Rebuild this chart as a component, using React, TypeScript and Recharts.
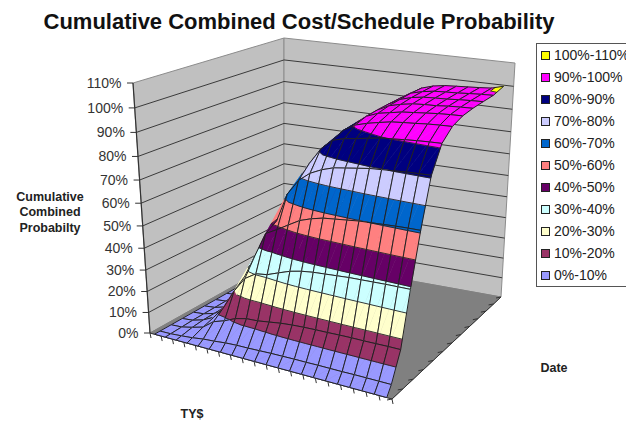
import { LabelList, Scatter, ScatterChart, XAxis, YAxis } from "recharts";

const W = 626;
const H = 422;

const bandLabels = ["0%-10%", "10%-20%", "20%-30%", "30%-40%", "40%-50%", "50%-60%", "60%-70%", "70%-80%", "80%-90%", "90%-100%", "100%-110%"];
const bandColors = ["#9999ff", "#993366", "#ffffcc", "#ccffff", "#660066", "#ff8080", "#0066cc", "#ccccff", "#000080", "#ff00ff", "#ffff00"];
const percentTicks = [0, 10, 20, 30, 40, 50, 60, 70, 80, 90, 100, 110];

// cumulative probability, one row per TY$ step, one column per date step
const probabilityByCost = [
  [0, 0, 0, 0, 0, 0, 0, 0, 0, 0, 0, 0, 0],
  [0, 0.1, 0.3, 0.5, 0.5, 0.5, 0.5, 0.5, 0.5, 0.5, 0.5, 0.5, 0.5],
  [0, 0.5, 1.5, 2, 2, 2, 2, 2, 2, 2, 2, 2, 2],
  [0, 1, 3, 4.6, 5, 5, 5, 5, 5, 5, 5, 5, 5],
  [0, 1.8, 7, 11, 12, 12.5, 13, 13, 13, 13, 13, 13, 13],
  [0, 2.2, 8.8, 20, 24, 25.5, 26, 26, 26, 26, 26, 26, 26],
  [0, 2.8, 11.2, 27, 35, 36.5, 37, 37, 37, 37, 37, 37, 37],
  [0, 3.1, 12.5, 30.4, 46, 49, 50, 50, 50, 50, 50, 50, 50],
  [0, 3.2, 12.8, 31.2, 48.8, 62, 65, 66, 66, 66, 66, 66, 66],
  [0, 3.4, 13.6, 33.2, 51.9, 68.9, 74, 75, 75, 75, 75, 75, 75],
  [0, 3.6, 14.4, 35.1, 54.9, 72.9, 81, 82.4, 83, 83, 83, 83, 83],
  [0, 3.7, 14.9, 36.3, 56.7, 75.3, 85.5, 87.5, 88, 88, 88, 88, 88],
  [0, 3.8, 15.2, 37, 58, 77, 87, 90.5, 92, 92.5, 92.8, 93, 93],
  [0, 3.8, 15.4, 37.4, 58.6, 77.8, 87.8, 92, 94, 95, 95.5, 96, 96],
  [0, 3.9, 15.5, 37.8, 59.2, 78.6, 88.8, 93.1, 95, 96.3, 97, 97.3, 97.5],
  [0, 3.9, 15.7, 38.2, 59.8, 79.4, 89.7, 94.1, 96, 97.2, 97.8, 98.1, 98.3],
  [0, 3.9, 15.8, 38.4, 60.1, 79.8, 90.1, 94.6, 96.5, 97.6, 98.1, 98.4, 98.6],
  [0, 4, 15.8, 38.6, 60.4, 80.2, 90.6, 95, 97, 97.8, 98.3, 98.6, 98.9],
  [0, 4, 15.9, 38.8, 60.7, 80.6, 91, 95.5, 97.5, 98.3, 98.7, 99, 99.2],
  [0, 4, 16, 38.9, 60.9, 80.8, 91.3, 95.8, 97.8, 98.6, 99, 99.3, 99.6],
  [0, 4, 16, 39, 61, 81, 91.5, 96, 98, 98.8, 99.2, 99.5, 101],
];

type Vertex = { u: number; v: number; z: number };
type Shape = { pts: [number, number][]; fill: string; stroke: string; sw: number };

// floor corners and the lift of each corner at the 110% level
const floor = { a: [150, 333], d: [392, 399], c: [501, 297], b: [284, 258] };
const lift = { a: [-17, -250], d: [0, -272], c: [14, -234], b: [0, -220] };

const bilerp = (q: Record<string, number[]>, u: number, v: number, k: number) =>
  (1 - u) * (1 - v) * q.a[k] + u * (1 - v) * q.d[k] + u * v * q.c[k] + (1 - u) * v * q.b[k];

// the vertical axis gets a little longer towards the top
const warp = (z: number) => {
  const t = z / 110;
  return 0.894 * t + 0.106 * t * t;
};

const project = (u: number, v: number, z: number): [number, number] => {
  const w = warp(z);
  return [bilerp(floor, u, v, 0) + w * bilerp(lift, u, v, 0), bilerp(floor, u, v, 1) + w * bilerp(lift, u, v, 1)];
};

// steps along the cost axis widen towards the viewer
const costAlong = (t: number) => 0.92 * t + 0.08 * t * t;
const dateAlong = (t: number) => 1.2 * t - 0.2 * t * t;
const costPos = (i: number) => costAlong(0.02 + 0.048 * i);
const datePos = (j: number) => (j === 0 ? 0 : (j - 0.5) / 12);

const lerpAt = (p: Vertex, q: Vertex, level: number): Vertex => {
  const t = (level - p.z) / (q.z - p.z);
  return { u: p.u + t * (q.u - p.u), v: p.v + t * (q.v - p.v), z: level };
};

const clipAbove = (poly: Vertex[], level: number, keepAbove: boolean) => {
  const out: Vertex[] = [];
  poly.forEach((p, i) => {
    const q = poly[(i + 1) % poly.length];
    const pIn = keepAbove ? p.z >= level : p.z <= level;
    const qIn = keepAbove ? q.z >= level : q.z <= level;
    if (pIn) out.push(p);
    if (pIn !== qIn) out.push(lerpAt(p, q, level));
  });
  return out;
};

const toScreen = (poly: Vertex[]) => poly.map((p) => project(p.u, p.v, p.z));

const buildScene = () => {
  const shapes: Shape[] = [];
  const line = (pts: [number, number][], stroke: string, sw: number) => shapes.push({ pts, fill: "none", stroke, sw });

  // walls and floor
  const wallEdge = "#8c8c8c";
  shapes.push({ pts: [project(0, 0, 0), project(0, 1, 0), project(0, 1, 110), project(0, 0, 110)], fill: "#c0c0c0", stroke: wallEdge, sw: 1 });
  shapes.push({ pts: [project(0, 1, 0), project(1, 1, 0), project(1, 1, 110), project(0, 1, 110)], fill: "#c0c0c0", stroke: wallEdge, sw: 1 });
  shapes.push({ pts: [project(0, 0, 0), project(1, 0, 0), project(1, 1, 0), project(0, 1, 0)], fill: "#808080", stroke: "#808080", sw: 1 });

  percentTicks.slice(1, -1).forEach((p) => {
    line([project(0, 0, p), project(0, 1, p), project(1, 1, p)], "#3a3a3a", 1);
  });

  // axes and their tick marks
  const axisColor = "#333333";
  line([project(0, 0, 0), project(0, 0, 110)], axisColor, 1.2);
  line([project(0, 0, 0), project(1, 0, 0), project(1, 1, 0)], axisColor, 1);
  percentTicks.forEach((p) => {
    const [x, y] = project(0, 0, p);
    line([[x - 6, y], [x, y]], axisColor, 1);
  });
  for (let i = 0; i <= 20; i++) {
    const [x, y] = project(costAlong(i / 20), 0, 0);
    line([[x, y], [x + 1, y + 5]], axisColor, 1);
  }
  for (let j = 0; j <= 12; j++) {
    const [x, y] = project(1, dateAlong(j / 12), 0);
    line([[x, y], [x - 5, y + 1]], axisColor, 1);
  }

  // surface cells, back to front
  const rows = probabilityByCost.length;
  const cols = probabilityByCost[0].length;
  const vertex = (i: number, j: number): Vertex => ({ u: costPos(i), v: datePos(j), z: probabilityByCost[i][j] });
  for (let j = cols - 2; j >= 0; j--) {
    for (let i = 0; i < rows - 1; i++) {
      const p00 = vertex(i, j);
      const p10 = vertex(i + 1, j);
      const p11 = vertex(i + 1, j + 1);
      const p01 = vertex(i, j + 1);
      const contours: [number, number][][] = [];
      [[p00, p10, p11], [p00, p11, p01]].forEach((tri) => {
        bandColors.forEach((color, b) => {
          const lo = b * 10;
          const hi = lo + 10;
          const clipped = clipAbove(clipAbove(tri, lo, true), hi, false);
          if (clipped.length >= 3) shapes.push({ pts: toScreen(clipped), fill: color, stroke: color, sw: 0.5 });
          if (lo > 0) {
            const hits: Vertex[] = [];
            tri.forEach((p, k) => {
              const q = tri[(k + 1) % 3];
              if ((p.z - lo) * (q.z - lo) < 0) hits.push(lerpAt(p, q, lo));
            });
            if (hits.length === 2) contours.push(toScreen(hits));
          }
        });
      });
      contours.forEach((c) => line(c, "#222222", 0.9));
      const outline = toScreen([p00, p10, p11, p01, p00]);
      line(outline, "#222222", 1);
    }
  }
  return shapes;
};

const scene = buildScene();
const scenePoints = scene.flatMap((s) => s.pts.map(([x, y]) => ({ x, y })));

// the scatter's line hook gets every scaled point; walk them back into shapes
const drawScene = (props: { points: { x: number; y: number }[] }) => {
  let at = 0;
  return (
    <g>
      {scene.map((s, idx) => {
        const pts = props.points.slice(at, at + s.pts.length);
        at += s.pts.length;
        const closed = s.fill !== "none" ? "Z" : "";
        const d = pts.map((p, k) => `${k ? "L" : "M"}${p.x.toFixed(2)} ${p.y.toFixed(2)}`).join("") + closed;
        return <path key={idx} d={d} fill={s.fill} stroke={s.stroke} strokeWidth={s.sw} strokeLinejoin="round" />;
      })}
    </g>
  );
};

const tickLabels = percentTicks.map((p) => {
  const [x, y] = project(0, 0, p);
  return { x: x - 5, y, label: `${p}%` };
});

const noSymbol = () => <g />;
const sans = "'Liberation Sans', Arial, sans-serif";

export default function App() {
  const legendRows = bandLabels.map((label, i) => ({ label, color: bandColors[i] })).reverse();
  return (
    <div style={{ position: "absolute", left: 0, top: 0, width: W, height: H, overflow: "hidden", background: "#fff" }}>
      <ScatterChart width={W} height={H} margin={{ top: 0, right: 0, bottom: 0, left: 0 }}>
        <XAxis type="number" dataKey="x" domain={[0, W]} hide />
        <YAxis type="number" dataKey="y" domain={[0, H]} reversed hide />
        <Scatter data={scenePoints} shape={noSymbol} line={drawScene} isAnimationActive={false} />
        <Scatter data={tickLabels} shape={noSymbol} isAnimationActive={false}>
          <LabelList dataKey="label" position="left" offset={2} fill="#333" fontSize={14} fontFamily={sans} />
        </Scatter>
        <text x={299} y={29} textAnchor="middle" fontFamily={sans} fontWeight="bold" fontSize={22} fill="#111">
          Cumulative Combined Cost/Schedule Probability
        </text>
        <g fontFamily={sans} fontWeight="bold" fontSize={12.5} fill="#222" textAnchor="middle">
          <text x={50} y={201}>Cumulative</text>
          <text x={50} y={216}>Combined</text>
          <text x={50} y={232}>Probabilty</text>
          <text x={192} y={418}>TY$</text>
          <text x={554} y={372}>Date</text>
        </g>
        <rect x={536.5} y={43.5} width={110} height={243} fill="#fff" stroke="#555" />
        {legendRows.map((row, i) => (
          <g key={row.label}>
            <rect x={541.5} y={51.5 + i * 22} width={8} height={8} fill={row.color} stroke="#222" />
            <text x={554} y={60 + i * 22} fontFamily={sans} fontSize={14} fill="#222">
              {row.label}
            </text>
          </g>
        ))}
      </ScatterChart>
    </div>
  );
}
